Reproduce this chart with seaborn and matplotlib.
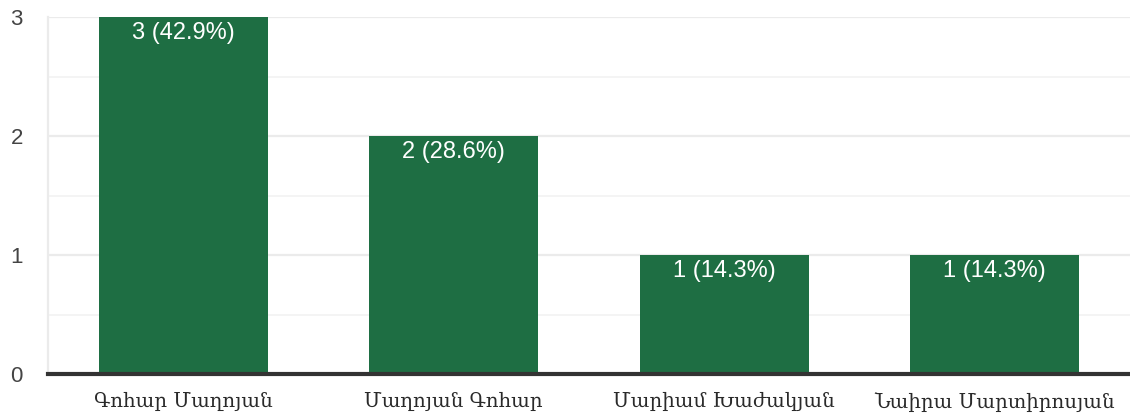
import pandas as pd
import seaborn as sns
import matplotlib.pyplot as plt
from matplotlib.ticker import MultipleLocator

# Data
names = ["Գոհար Մաղոյան", "Մաղոյան Գոհար", "Մարիամ Խաժակյան", "Նաիրա Մարտիրոսյան"]
counts = [3, 2, 1, 1]
labels = ["3 (42.9%)", "2 (28.6%)", "1 (14.3%)", "1 (14.3%)"]

df = pd.DataFrame({"name": names, "count": counts})

sns.set_theme(style="white")
plt.rcParams['font.family'] = ['Liberation Sans', 'DejaVu Sans']

fig = plt.figure(figsize=(11.3, 4.2), dpi=100)
ax = fig.add_axes([0.0425, 0.1095, 0.9575, 0.85])

sns.barplot(data=df, x="name", y="count", color="#1e6e43", saturation=1,
            width=0.625, linewidth=0, ax=ax, zorder=3)

# value labels inside bar tops
for i, (c, lab) in enumerate(zip(counts, labels)):
    ax.text(i, c - 0.135, lab, ha="center", va="center", color="white",
            fontsize=17, zorder=4)

ax.set_xlim(-0.5, 3.5)
ax.set_ylim(0, 3)
ax.yaxis.set_major_locator(MultipleLocator(1))
ax.yaxis.set_minor_locator(MultipleLocator(0.5))
ax.grid(axis="y", which="major", color="#ebebeb", lw=1.6, zorder=0)
ax.grid(axis="y", which="minor", color="#f4f4f4", lw=1.4, zorder=0)
ax.set_xlabel("")
ax.set_ylabel("")

for s in ["top", "right"]:
    ax.spines[s].set_visible(False)
ax.spines["left"].set_color("#ebebeb")
ax.spines["left"].set_linewidth(1.6)
ax.spines["bottom"].set_color("#333333")
ax.spines["bottom"].set_linewidth(3)
ax.spines["bottom"].set_zorder(5)

ax.tick_params(axis="y", which="both", length=0, labelsize=16, labelcolor="#444444", pad=27)
for t in ax.get_yticklabels():
    t.set_horizontalalignment("left")
ax.tick_params(axis="x", length=0, pad=13)
for t in ax.get_xticklabels():
    t.set_family(["DejaVu Serif", "DejaVu Sans"])
    t.set_fontsize(14.2)
    t.set_color("#2a2a2a")

fig.savefig("out.png", dpi=100)
